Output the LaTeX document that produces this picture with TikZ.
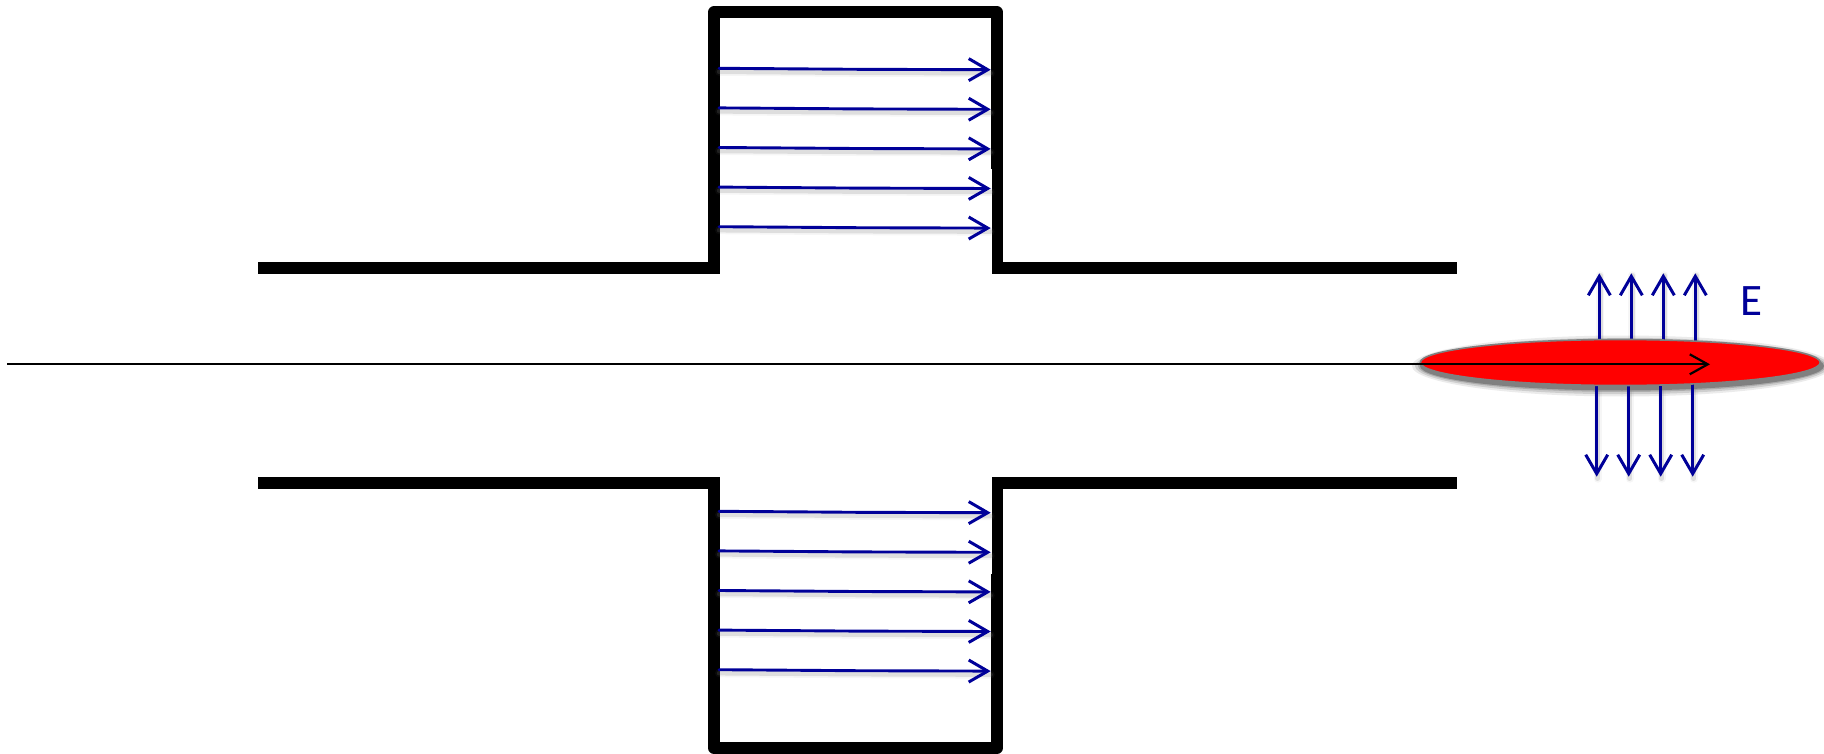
\documentclass[tikz,border=0pt]{standalone}
\usepackage{fontspec}
\setmainfont{Carlito}
\usetikzlibrary{arrows.meta,shapes.geometric}
\definecolor{fieldblue}{HTML}{000099}
\tikzset{
  x=1pt,y=-1pt,
  wallline/.style={line width=11.7pt,black,line join=miter,line cap=butt},
  wallcap/.style={line width=11.7pt,black,line join=round,line cap=butt},
  wallthin/.style={line width=10.7pt,black,line cap=butt},
  fieldtip/.style={-{Straight Barb[length=19pt,width=22pt,line width=3pt]}},
  fieldline/.style={fieldtip,fieldblue,line width=2.9pt,line cap=round},
  shadeA/.style={gray,line width=8pt,opacity=.07,line cap=round},
  shadeB/.style={gray,line width=4.5pt,opacity=.2,line cap=round},
  axisline/.style={black,line width=2.2pt,-{Straight Barb[length=18pt,width=20pt,line width=2.2pt]}},
  bunch/.style={draw=gray,line width=1.6pt,fill=red,shape=ellipse,inner sep=0pt,minimum width=400pt,minimum height=46pt},
  fieldlabel/.style={text=fieldblue,font=\fontsize{45pt}{45pt}\selectfont,inner sep=0pt,anchor=base west},
}
\newcommand{\barrow}[3]{%
  \draw[shadeA] ([yshift=-3.5pt]#1) -- ([yshift=-3.5pt]#2) -- ([yshift=-3.5pt]#3);
  \draw[shadeB] ([yshift=-3.5pt]#1) -- ([yshift=-3.5pt]#2) -- ([yshift=-3.5pt]#3);
  \draw[fieldline] (#1) -- (#2) -- (#3);}
\newcommand{\varrow}[2]{%
  \draw[shadeA] ([xshift=1pt,yshift=-2pt]#1) -- ([xshift=1pt,yshift=-2pt]#2);
  \draw[shadeB] ([xshift=1pt,yshift=-2pt]#1) -- ([xshift=1pt,yshift=-2pt]#2);
  \draw[fieldline] (#1) -- (#2);}
\begin{document}
\begin{tikzpicture}
\useasboundingbox (0,0) rectangle (1824,754);
\fill[white] (0,0) rectangle (1824,754);
% upper cavity
\draw[wallline] (258,268) -- (714,268) -- (714,100);
\draw[wallcap] (714,101) -- (714,12.3) -- (997,12.3) -- (997,169);
\draw[wallthin] (997.35,168) -- (997.35,274.15);
\draw[wallline] (992,268) -- (1457,268);
% lower cavity
\draw[wallline] (258,482.7) -- (714,482.7) -- (714,650);
\draw[wallcap] (714,649) -- (714,748) -- (997,748) -- (997,574);
\draw[wallthin] (997.35,575) -- (997.35,476.85);
\draw[wallline] (992,482.7) -- (1457,482.7);
% field arrows in the cavities
\foreach \y in {68.3,107.9,147.5,187.1,226.7,511.3,550.9,590.5,630.1,669.7} {
  \coordinate (fs) at (719,\y);
  \coordinate (fm) at (856,\y+1);
  \coordinate (fe) at (990.7,\y+1.4);
  \barrow{fs}{fm}{fe}
}
% bunch shadow
\foreach \g/\o in {10/.08,7/.12,4/.16,2/.25} {
  \fill[black,opacity=\o] (1622,366) ellipse ({200+\g} and {23+\g*.75});
}
% field arrows out of the bunch
\foreach \x in {1599.3,1631.3,1663.3,1695.3} {
  \coordinate (us) at (\x,341);
  \coordinate (ue) at (\x,273.3);
  \varrow{us}{ue}
}
\foreach \x in {1596.7,1628.7,1660.7,1692.7} {
  \coordinate (ds) at (\x,384);
  \coordinate (de) at (\x,476.7);
  \varrow{ds}{de}
}
\node[bunch] (bunch) at (1620.3,362.5) {};
\coordinate (axisstart) at (7,364.3);
\coordinate (axisend) at (1710,364.3);
\draw[axisline] (axisstart) -- (axisend);
\node[fieldlabel] (elabel) at (1740.5,315.7) {E};
\end{tikzpicture}
\end{document}
